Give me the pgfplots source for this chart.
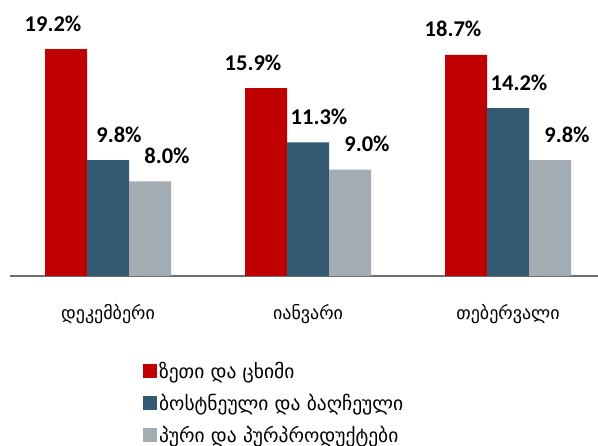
\documentclass[border=0pt]{standalone}
\usepackage{fontspec}
\setmainfont{Carlito}
\newfontfamily\geo{DejaVu Sans}
\usepackage{pgfplots}
\pgfplotsset{compat=1.18}
\definecolor{cred}{RGB}{192,0,0}
\definecolor{cblue}{RGB}{52,90,115}
\definecolor{cgray}{RGB}{163,172,179}
\definecolor{axgray}{RGB}{110,110,110}

\begin{document}
\begin{tikzpicture}
\begin{axis}[
    scale only axis,
    width=588pt, height=276pt,
    ybar=0pt, bar width=42pt,
    xmin=-0.49, xmax=2.45,
    ymin=0, ymax=23.35,
    xtick={0,1,2},
    xticklabels={დეკემბერი,იანვარი,თებერვალი},
    xticklabel style={font=\geo\fontsize{18}{21}\selectfont, yshift=-25pt},
    major tick length=0pt,
    axis x line*=bottom,
    axis y line=none,
    x axis line style={axgray, line width=1.5pt, -},
    nodes near coords={\pgfmathprintnumber[fixed,fixed zerofill,precision=1,assume math mode=true]{\pgfplotspointmeta}\%},
    every node near coord/.append style={font=\bfseries\fontsize{22.5}{24}\selectfont, anchor=base, yshift=18pt},
    legend style={at={(0.226,-0.305)}, anchor=north west, draw=none, fill=none,
        font=\geo\fontsize{19.5}{22}\selectfont, row sep=10pt, inner sep=0pt},
    legend cell align=left,
    legend image code/.code={\fill[#1] (0pt,-7pt) rectangle (14pt,7pt);},
]
\addplot[fill=cred, draw=none, every node near coord/.append style={xshift=-13pt}]
    coordinates {(0,19.2) (1,15.9) (2,18.7)};
\addplot[fill=cblue, draw=none, every node near coord/.append style={xshift=11pt}]
    coordinates {(0,9.8) (1,11.3) (2,14.2)};
\addplot[fill=cgray, draw=none, every node near coord/.append style={xshift=17pt}]
    coordinates {(0,8.0) (1,9.0) (2,9.8)};
\legend{ზეთი და ცხიმი, ბოსტნეული და ბაღჩეული, პური და პურპროდუქტები}
\end{axis}
\pgfresetboundingbox
\path[use as bounding box] (-10pt,-170pt) rectangle (588pt,276pt);
\end{tikzpicture}
\end{document}
